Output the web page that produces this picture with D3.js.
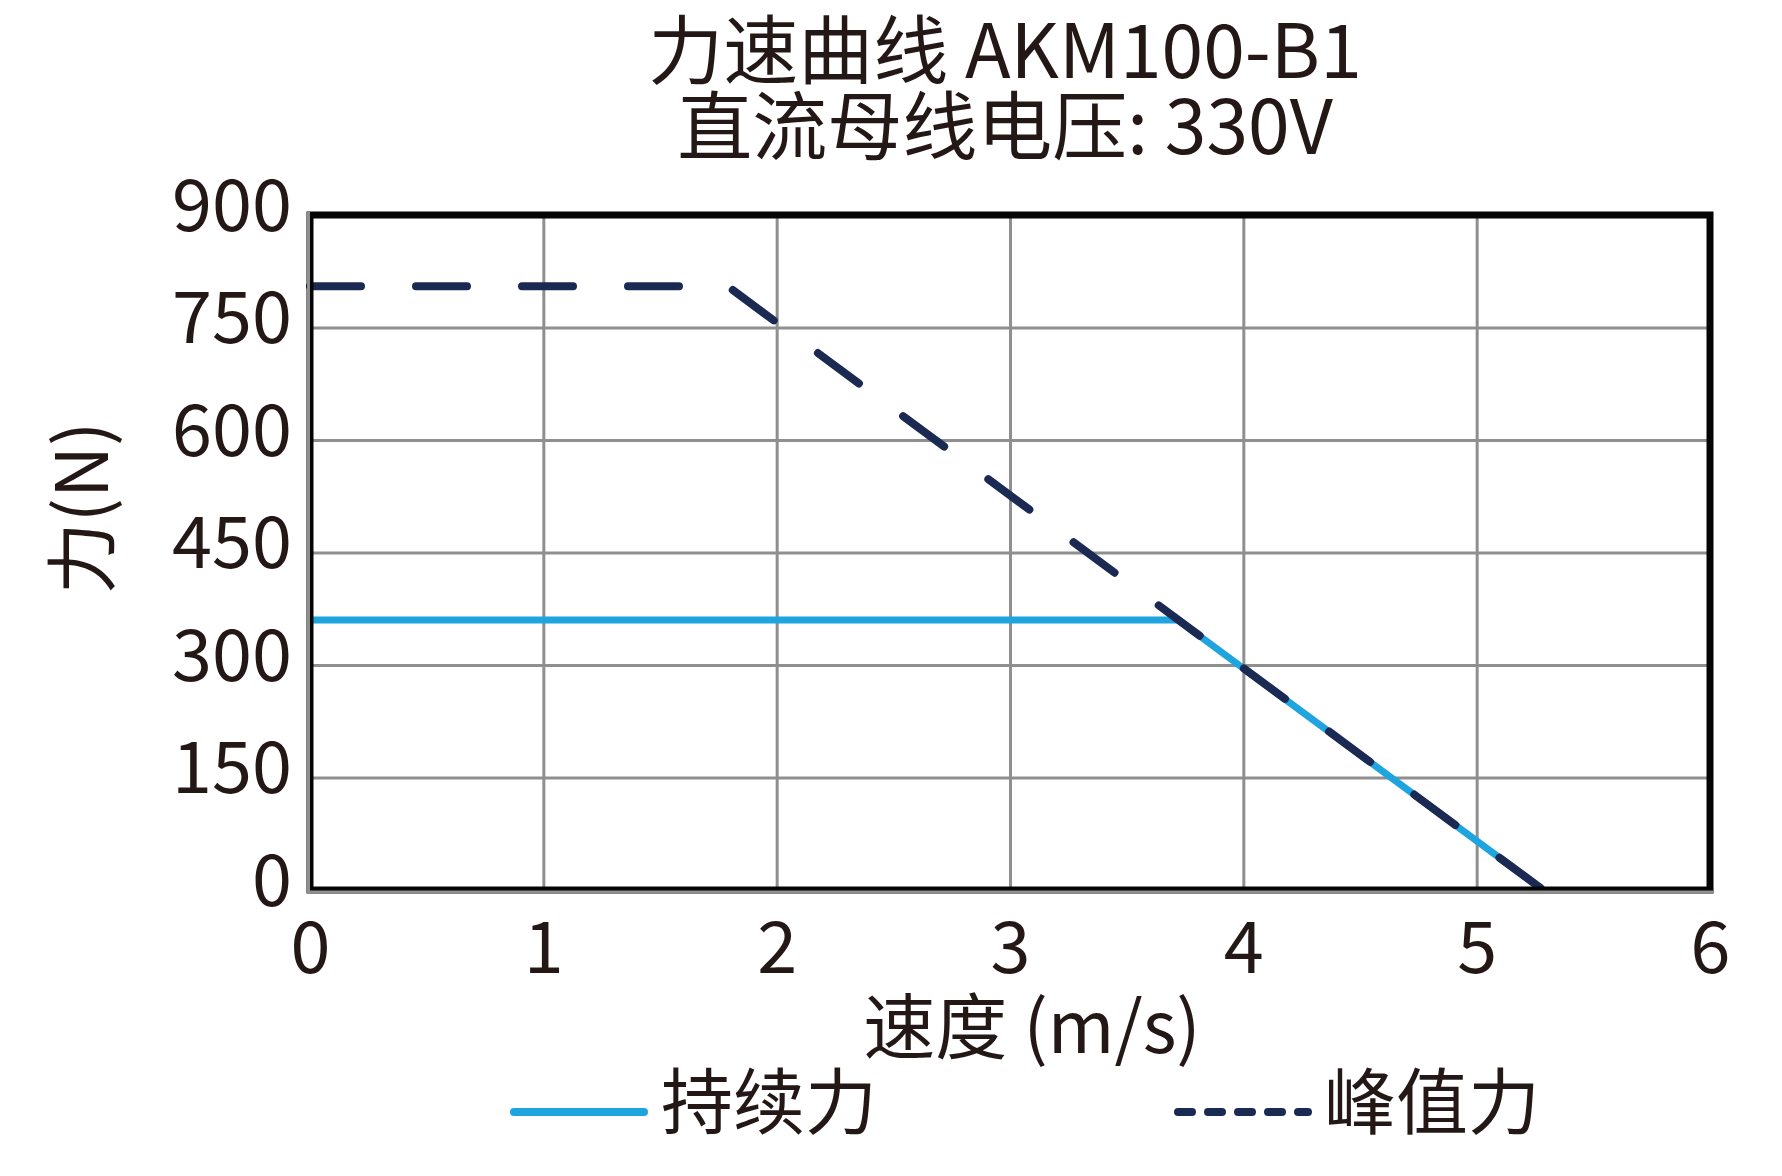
<!DOCTYPE html>
<html>
<head>
<meta charset="utf-8">
<script src="https://cdn.jsdelivr.net/npm/d3@7"></script>
<style>
  html, body { margin: 0; padding: 0; background: #fff; }
  svg { display: block; }
  text { font-family: "Noto Sans CJK SC", "Noto Sans", sans-serif; fill: #231815; }
</style>
</head>
<body>
<svg id="chart" width="1782" height="1176"></svg>
<script>
// ---- data ----
const titleLines = ["力速曲线 AKM100-B1", "直流母线电压: 330V"];
const xTicks = [0, 1, 2, 3, 4, 5, 6];
const yTicks = [0, 150, 300, 450, 600, 750, 900];
const xLabel = "速度 (m/s)";
const yLabel = "力(N)";
const seriesNames = ["持续力", "峰值力"];
const continuousSpeed = [0, 3.72, 5.285];
const continuousForce = [360, 360, 0];
const peakSpeed = [0, 1.79, 5.285];
const peakForce = [805, 805, 0];

// ---- layout ----
const svg = d3.select("#chart");
const pL = 310, pR = 1710, pT = 215, pB = 890;
const W = pR - pL, H = pB - pT;
const ink = "#231815";
const blue = "#1ea4de";
const navy = "#1a2a52";
const grid = "#8f8f8f";
const fontFam = '"Noto Sans CJK SC", "Noto Sans", sans-serif';

const x = d3.scaleLinear().domain([0, 6]).range([pL, pR]);
const y = d3.scaleLinear().domain([0, 900]).range([pB, pT]);

// title
svg.append("g").selectAll("text").data(titleLines).join("text")
  .attr("x", 1005).attr("y", (d, i) => 78 + i * 76)
  .attr("text-anchor", "middle").attr("font-size", 75).text(d => d);

// grid + tick labels via axes
const gx = svg.append("g").attr("transform", `translate(0,${pB})`)
  .call(d3.axisBottom(x).tickValues(xTicks).tickSize(-H).tickFormat(d3.format("d")));
gx.select(".domain").remove();
gx.selectAll(".tick line").attr("stroke", grid).attr("stroke-width", 3);
gx.selectAll(".tick text").attr("y", 83).attr("dy", 0)
  .attr("font-size", 72).attr("fill", ink).style("font-family", fontFam);

const gy = svg.append("g").attr("transform", `translate(${pL},0)`)
  .call(d3.axisLeft(y).tickValues(yTicks).tickSize(-W).tickPadding(18).tickFormat(d3.format("d")));
gy.select(".domain").remove();
gy.selectAll(".tick line").attr("stroke", grid).attr("stroke-width", 3);
gy.selectAll(".tick text").attr("dy", 15)
  .attr("font-size", 72).attr("fill", ink).style("font-family", fontFam);

// lines
const line = d3.line().x(d => x(d[0])).y(d => y(d[1]));
const contPts = continuousSpeed.map((s, i) => [s, continuousForce[i]]);
const peakPts = peakSpeed.map((s, i) => [s, peakForce[i]]);

svg.append("path").attr("d", line(contPts))
  .attr("fill", "none").attr("stroke", blue).attr("stroke-width", 7)
  .attr("stroke-linejoin", "round");
svg.append("path").attr("d", line(peakPts))
  .attr("fill", "none").attr("stroke", navy).attr("stroke-width", 8)
  .attr("stroke-linecap", "round").attr("stroke-linejoin", "round")
  .attr("stroke-dasharray", "51,55");

// frame
svg.append("rect").attr("x", pL).attr("y", pT).attr("width", W).attr("height", H)
  .attr("fill", "none").attr("stroke", "#050505").attr("stroke-width", 7);
svg.append("line").attr("x1", pL - 1.5).attr("x2", pL - 1.5).attr("y1", pT - 3).attr("y2", pB + 4)
  .attr("stroke", grid).attr("stroke-width", 3);
svg.append("line").attr("x1", pL - 3).attr("x2", pR + 3).attr("y1", pB + 2).attr("y2", pB + 2)
  .attr("stroke", grid).attr("stroke-width", 3);

// axis titles
svg.append("text").attr("x", 1032).attr("y", 1053)
  .attr("text-anchor", "middle").attr("font-size", 72).text(xLabel);
svg.append("text").attr("transform", "translate(108,508) rotate(-90)")
  .attr("text-anchor", "middle").attr("font-size", 72).text(yLabel);

// legend
const lg = svg.append("g");
lg.append("line").attr("x1", 514).attr("x2", 644).attr("y1", 1112).attr("y2", 1112)
  .attr("stroke", blue).attr("stroke-width", 8).attr("stroke-linecap", "round");
lg.append("text").attr("x", 661).attr("y", 1128).attr("font-size", 72).text(seriesNames[0]);
lg.append("line").attr("x1", 1178).attr("x2", 1308).attr("y1", 1112).attr("y2", 1112)
  .attr("stroke", navy).attr("stroke-width", 8).attr("stroke-linecap", "round")
  .attr("stroke-dasharray", "14,16");
lg.append("text").attr("x", 1324).attr("y", 1128).attr("font-size", 72).text(seriesNames[1]);
</script>
</body>
</html>
